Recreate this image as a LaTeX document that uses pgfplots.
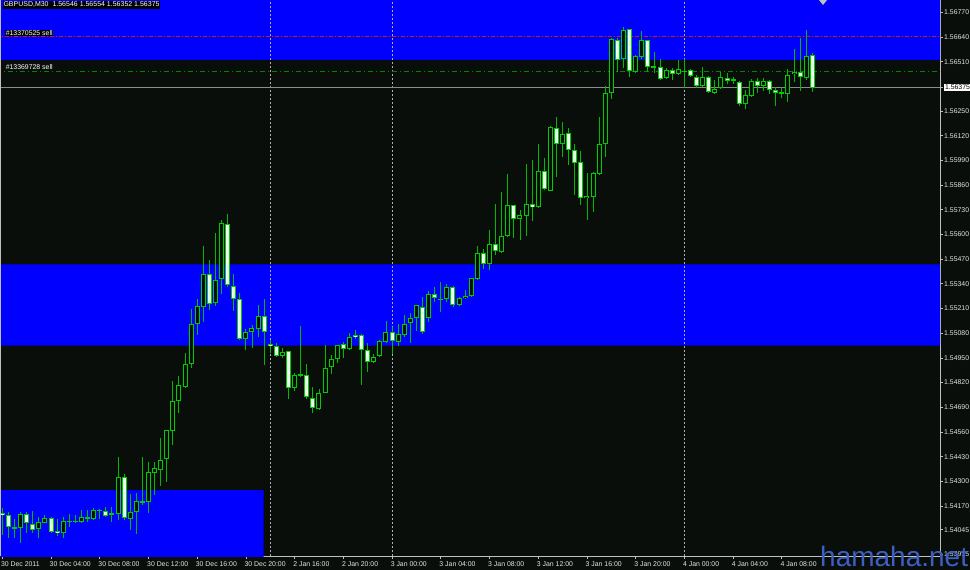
\documentclass[border=0pt]{standalone}
\usepackage{fontspec}
\setmainfont{Liberation Sans}
\usepackage{pgfplots}
\usepackage{pgfplotstable}
\pgfplotsset{compat=1.18}
\definecolor{bgk}{RGB}{10,14,10}
\definecolor{cgreen}{RGB}{0,205,0}
\definecolor{wgreen}{RGB}{0,185,0}
\definecolor{bodyw}{RGB}{236,255,236}
\definecolor{mtblue}{RGB}{0,0,255}
\definecolor{axg}{RGB}{192,192,192}
\definecolor{txtg}{RGB}{228,228,228}
\definecolor{sepg}{RGB}{175,175,175}
\definecolor{ordred}{RGB}{200,20,80}
\definecolor{ordnavy}{RGB}{30,30,90}
\definecolor{ordgreen}{RGB}{0,135,0}
\definecolor{bidg}{RGB}{140,140,140}
\definecolor{wm}{RGB}{60,95,195}

\pgfplotstableread{
i o h l c
0 1.54135 1.54160 1.54017 1.54121
1 1.54123 1.54140 1.54003 1.54061
2 1.54061 1.54102 1.54002 1.54051
3 1.54053 1.54140 1.53977 1.54128
4 1.54128 1.54140 1.54028 1.54079
5 1.54079 1.54145 1.54026 1.54044
6 1.54047 1.54114 1.54000 1.54084
7 1.54082 1.54123 1.54079 1.54108
8 1.54105 1.54114 1.54026 1.54032
9 1.54037 1.54100 1.54012 1.54026
10 1.54026 1.54114 1.54000 1.54093
11 1.54091 1.54128 1.54061 1.54091
12 1.54091 1.54123 1.54079 1.54091
13 1.54087 1.54149 1.54079 1.54111
14 1.54112 1.54149 1.54087 1.54103
15 1.54102 1.54161 1.54096 1.54149
16 1.54149 1.54158 1.54105 1.54149
17 1.54144 1.54166 1.54114 1.54119
18 1.54132 1.54166 1.54087 1.54123
19 1.54128 1.54430 1.54096 1.54321
20 1.54321 1.54342 1.54100 1.54105
21 1.54105 1.54233 1.54044 1.54140
22 1.54140 1.54237 1.54021 1.54198
23 1.54196 1.54430 1.54175 1.54188
24 1.54193 1.54403 1.54135 1.54351
25 1.54345 1.54403 1.54228 1.54369
26 1.54363 1.54530 1.54275 1.54416
27 1.54416 1.54570 1.54298 1.54570
28 1.54567 1.54828 1.54495 1.54723
29 1.54723 1.54855 1.54658 1.54807
30 1.54798 1.54977 1.54790 1.54918
31 1.54916 1.55206 1.54900 1.55129
32 1.55129 1.55260 1.55071 1.55223
33 1.55216 1.55539 1.55141 1.55392
34 1.55392 1.55469 1.55202 1.55234
35 1.55239 1.55608 1.55223 1.55360
36 1.55364 1.55676 1.55290 1.55659
37 1.55655 1.55708 1.55325 1.55334
38 1.55329 1.55392 1.55199 1.55260
39 1.55260 1.55293 1.55044 1.55048
40 1.55048 1.55106 1.54995 1.55085
41 1.55088 1.55123 1.55001 1.55109
42 1.55102 1.55229 1.55062 1.55171
43 1.55171 1.55259 1.54913 1.55088
44 1.55027 1.55044 1.54976 1.55016
45 1.55016 1.55027 1.54955 1.54960
46 1.54960 1.55001 1.54948 1.54983
47 1.54988 1.54988 1.54734 1.54795
48 1.54790 1.54872 1.54777 1.54860
49 1.54860 1.55118 1.54851 1.54860
50 1.54860 1.54918 1.54734 1.54743
51 1.54740 1.54795 1.54658 1.54685
52 1.54679 1.54785 1.54676 1.54764
53 1.54767 1.55018 1.54764 1.54895
54 1.54900 1.54965 1.54865 1.54943
55 1.54943 1.55016 1.54925 1.55016
56 1.55022 1.55035 1.54948 1.54998
57 1.54995 1.55080 1.54992 1.55062
58 1.55071 1.55097 1.55048 1.55058
59 1.55072 1.55080 1.54807 1.54995
60 1.54992 1.55027 1.54877 1.54932
61 1.54927 1.54974 1.54922 1.54956
62 1.54960 1.55044 1.54956 1.55041
63 1.55035 1.55146 1.55030 1.55088
64 1.55088 1.55114 1.54974 1.55041
65 1.55035 1.55129 1.55013 1.55074
66 1.55071 1.55176 1.55062 1.55129
67 1.55132 1.55188 1.55030 1.55159
68 1.55159 1.55227 1.55093 1.55227
69 1.55220 1.55272 1.55076 1.55086
70 1.55160 1.55302 1.55139 1.55287
71 1.55290 1.55325 1.55246 1.55264
72 1.55259 1.55351 1.55193 1.55259
73 1.55259 1.55343 1.55246 1.55322
74 1.55322 1.55329 1.55216 1.55229
75 1.55229 1.55272 1.55223 1.55264
76 1.55264 1.55311 1.55259 1.55276
77 1.55276 1.55369 1.55272 1.55369
78 1.55369 1.55539 1.55364 1.55501
79 1.55501 1.55522 1.55417 1.55443
80 1.55443 1.55624 1.55417 1.55548
81 1.55548 1.55760 1.55492 1.55513
82 1.55509 1.55825 1.55504 1.55592
83 1.55592 1.55918 1.55588 1.55754
84 1.55754 1.55754 1.55580 1.55680
85 1.55680 1.55729 1.55571 1.55701
86 1.55699 1.55971 1.55592 1.55759
87 1.55759 1.55992 1.55672 1.55743
88 1.55743 1.56080 1.55738 1.55934
89 1.55934 1.56001 1.55834 1.55838
90 1.55830 1.56171 1.55830 1.56164
91 1.56162 1.56220 1.55901 1.56080
92 1.56080 1.56194 1.56010 1.56133
93 1.56133 1.56164 1.55966 1.56045
94 1.56045 1.56080 1.55808 1.55978
95 1.55980 1.56041 1.55754 1.55794
96 1.55790 1.55925 1.55680 1.55804
97 1.55799 1.55931 1.55720 1.55925
98 1.55918 1.56220 1.55913 1.56076
99 1.56076 1.56382 1.56010 1.56343
100 1.56345 1.56633 1.56313 1.56629
101 1.56624 1.56633 1.56457 1.56522
102 1.56522 1.56694 1.56475 1.56677
103 1.56680 1.56680 1.56428 1.56461
104 1.56457 1.56545 1.56452 1.56540
105 1.56536 1.56671 1.56522 1.56624
106 1.56624 1.56628 1.56457 1.56483
107 1.56483 1.56562 1.56452 1.56483
108 1.56483 1.56528 1.56417 1.56422
109 1.56422 1.56478 1.56417 1.56466
110 1.56466 1.56480 1.56413 1.56443
111 1.56443 1.56522 1.56440 1.56470
112 1.56462 1.56524 1.56371 1.56462
113 1.56466 1.56470 1.56428 1.56434
114 1.56428 1.56440 1.56370 1.56382
115 1.56382 1.56480 1.56375 1.56428
116 1.56428 1.56434 1.56347 1.56352
117 1.56349 1.56413 1.56343 1.56370
118 1.56370 1.56457 1.56364 1.56428
119 1.56426 1.56449 1.56392 1.56410
120 1.56417 1.56431 1.56392 1.56408
121 1.56404 1.56410 1.56276 1.56291
122 1.56291 1.56361 1.56259 1.56334
123 1.56329 1.56422 1.56325 1.56410
124 1.56410 1.56422 1.56347 1.56382
125 1.56382 1.56422 1.56357 1.56410
126 1.56410 1.56413 1.56340 1.56361
127 1.56361 1.56378 1.56276 1.56347
128 1.56347 1.56378 1.56322 1.56347
129 1.56343 1.56470 1.56299 1.56443
130 1.56443 1.56580 1.56404 1.56457
131 1.56454 1.56633 1.56357 1.56431
132 1.56428 1.56677 1.56417 1.56541
133 1.56546 1.56554 1.56352 1.56375
}\candles

\begin{document}
\begin{tikzpicture}
\fill[bgk] (0pt,0pt) rectangle (970pt,-570pt);
\begin{axis}[
  at={(0pt,0pt)}, anchor=north west,
  scale only axis, width=940pt, height=556pt,
  xmin=-0.378, xmax=153.97,
  ymin=1.539068, ymax=1.568347,
  axis x line*=bottom, axis y line*=right,
  axis line style={draw=axg, line width=0.8pt},
  tick align=outside, major tick length=3pt,
  tick style={draw=axg, line width=0.8pt},
  xtick={0,8,...,128},
  xticklabels={30 Dec 2011, 30 Dec 04:00, 30 Dec 08:00, 30 Dec 12:00, 30 Dec 16:00, 30 Dec 20:00, 2 Jan 16:00, 2 Jan 20:00, 3 Jan 00:00, 3 Jan 04:00, 3 Jan 08:00, 3 Jan 12:00, 3 Jan 16:00, 3 Jan 20:00, 4 Jan 00:00, 4 Jan 04:00, 4 Jan 08:00},
  ytick={1.56770,1.56640,1.56510,1.56375,1.56250,1.56120,1.55990,1.55860,1.55730,1.55600,1.55470,1.55340,1.55210,1.55080,1.54950,1.54820,1.54690,1.54560,1.54430,1.54300,1.54170,1.54045,1.53915},
  yticklabels={1.56770,1.56640,1.56510,{\setlength{\fboxsep}{0.8pt}\colorbox{white}{\color{black}1.56375}},1.56250,1.56120,1.55990,1.55860,1.55730,1.55600,1.55470,1.55340,1.55210,1.55080,1.54950,1.54820,1.54690,1.54560,1.54430,1.54300,1.54170,1.54045,1.53915},
  tick label style={font=\fontsize{6.9}{8}\selectfont, text=txtg},
  xticklabel style={anchor=north west, inner sep=0pt, xshift=-1.5pt, yshift=-2pt},
  yticklabel style={anchor=west, inner sep=0pt, xshift=1pt},
  clip=true,
]
% rectangles
\addplot[fill=mtblue, draw=none, forget plot] coordinates {(-1,1.56520) (160,1.56520) (160,1.5700) (-1,1.5700)} \closedcycle;
\addplot[fill=mtblue, draw=none, forget plot] coordinates {(-1,1.55014) (160,1.55014) (160,1.55443) (-1,1.55443)} \closedcycle;
\addplot[fill=mtblue, draw=none, forget plot] coordinates {(-1,1.5380) (42.9,1.5380) (42.9,1.54254) (-1,1.54254)} \closedcycle;
% period separators
\addplot[sepg, line width=0.8pt, dash pattern=on 2.5pt off 1.5pt, forget plot] coordinates {(44,1.5380) (44,1.5700)};
\addplot[sepg, line width=0.8pt, dash pattern=on 2.5pt off 1.5pt, forget plot] coordinates {(64,1.5380) (64,1.5700)};
\addplot[sepg, line width=0.8pt, dash pattern=on 2.5pt off 1.5pt, forget plot] coordinates {(112,1.5380) (112,1.5700)};
% order lines
\addplot[ordnavy, line width=0.9pt, forget plot] coordinates {(-1,1.56641) (160,1.56641)};
\addplot[ordred, line width=0.9pt, dash pattern=on 4pt off 2pt on 1pt off 2pt, forget plot] coordinates {(-1,1.56641) (160,1.56641)};
\addplot[ordgreen, line width=0.9pt, dash pattern=on 5pt off 3pt on 1pt off 3pt, forget plot] coordinates {(-1,1.56461) (160,1.56461)};
\addplot[bidg, line width=0.9pt, forget plot] coordinates {(-1,1.56375) (160,1.56375)};
% wicks
\addplot[draw=none, mark=none, forget plot,
  error bars/.cd, y dir=both, y explicit, error mark=none,
  error bar style={draw=wgreen, line width=0.9pt, solid, line cap=butt}]
  table[x=i, y expr={(\thisrow{h}+\thisrow{l})/2}, y error expr={(\thisrow{h}-\thisrow{l})/2}] {\candles};
% body outlines
\addplot[draw=none, mark=none, forget plot,
  error bars/.cd, y dir=both, y explicit, error mark=none,
  error bar style={draw=cgreen, line width=5pt, solid, line cap=butt}]
  table[x=i, y expr={(\thisrow{o}+\thisrow{c})/2}, y error expr={max(0.0000263,abs(\thisrow{c}-\thisrow{o})/2)}] {\candles};
% bear bodies (white)
\addplot[draw=none, mark=none, forget plot,
  error bars/.cd, y dir=both, y explicit, error mark=none,
  error bar style={draw=bodyw, line width=3pt, solid, line cap=butt}]
  table[x=i, y expr={(\thisrow{o}+\thisrow{c})/2}, y error expr={max(0,(\thisrow{o}-\thisrow{c})/2-0.0000527)}] {\candles};
% bull bodies (black)
\addplot[draw=none, mark=none, forget plot,
  error bars/.cd, y dir=both, y explicit, error mark=none,
  error bar style={draw=bgk, line width=3pt, solid, line cap=butt}]
  table[x=i, y expr={(\thisrow{o}+\thisrow{c})/2}, y error expr={max(0,(\thisrow{c}-\thisrow{o})/2-0.0000527)}] {\candles};
\end{axis}
\draw[axg, line width=0.8pt] (0.8pt,0pt) -- (0.8pt,-556pt);
\fill[axg] (819pt,0pt) -- (827pt,0pt) -- (823pt,-5pt) -- cycle;
\node[anchor=north west, fill=black, text=white, inner sep=0.8pt, font=\fontsize{7}{8}\selectfont] at (2.5pt,-1pt) {GBPUSD,M30\ \ 1.56546 1.56554 1.56352 1.56375};
\node[anchor=south west, fill=black, text=white, inner sep=0.6pt, font=\fontsize{6.9}{8}\selectfont] at (5pt,-36pt) {\#13370525 sell};
\node[anchor=south west, fill=bgk, text=white, inner sep=0.6pt, font=\fontsize{6.9}{8}\selectfont] at (5pt,-70pt) {\#13369728 sell};
\node[anchor=base west, text=wm, inner sep=0pt, font=\fontsize{28}{30}\selectfont] at (820pt,-566.5pt) {hamaha.net};
\pgfresetboundingbox
\path[use as bounding box] (0pt,0pt) rectangle (970pt,-570pt);
\end{tikzpicture}
\end{document}
